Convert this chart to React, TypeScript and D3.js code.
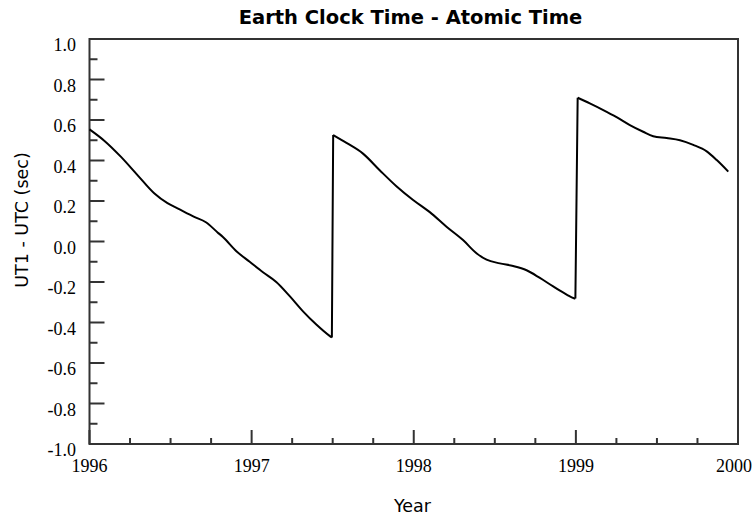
import React from "react";
import * as d3 from "d3";

const years: number[] = [
  1996.0, 1996.091, 1996.193, 1996.296, 1996.399, 1996.481, 1996.543, 1996.646, 1996.718, 1996.79,
  1996.823, 1996.906, 1996.988, 1997.07, 1997.152, 1997.235, 1997.317, 1997.399, 1997.481, 1997.495,
  1997.499, 1997.503, 1997.585, 1997.687, 1997.79, 1997.893, 1997.996, 1998.099, 1998.202, 1998.304,
  1998.387, 1998.449, 1998.531, 1998.613, 1998.696, 1998.778, 1998.86, 1998.943, 1998.988, 1998.997,
  1999.004, 1999.011, 1999.086, 1999.169, 1999.251, 1999.333, 1999.415, 1999.477, 1999.56, 1999.642,
  1999.724, 1999.807, 1999.869, 1999.94,
];
const ut1utc: number[] = [
  0.554, 0.498, 0.419, 0.328, 0.238, 0.189, 0.164, 0.122, 0.095, 0.045,
  0.022, -0.048, -0.1, -0.152, -0.2, -0.27, -0.345, -0.41, -0.466, -0.474,
  0.027, 0.526, 0.487, 0.434, 0.352, 0.273, 0.205, 0.145, 0.073, 0.007,
  -0.058, -0.09, -0.108, -0.121, -0.142, -0.18, -0.222, -0.262, -0.28, -0.282,
  0.213, 0.71, 0.682, 0.649, 0.614, 0.575, 0.542, 0.52, 0.511, 0.5,
  0.477, 0.445, 0.402, 0.345,
];
const yTickValues: number[] = [-1.0, -0.8, -0.6, -0.4, -0.2, 0.0, 0.2, 0.4, 0.6, 0.8, 1.0];
const yMinorValues: number[] = [-0.9, -0.7, -0.5, -0.3, -0.1, 0.1, 0.3, 0.5, 0.7, 0.9];
const xTickValues: number[] = [1996, 1997, 1998, 1999, 2000];
const xMinorValues: number[] = [
  1996.25, 1996.5, 1996.75, 1997.25, 1997.5, 1997.75, 1998.25, 1998.5, 1998.75, 1999.25, 1999.5, 1999.75,
];
const titleText = "Earth Clock Time - Atomic Time";
const xTitle = "Year";
const yTitle = "UT1 - UTC (sec)";

const W = 756;
const H = 516;
const L = 89.5;
const R = 738;
const T = 39;
const B = 444;

type P = [number, number];

export default function App() {
  const x = d3.scaleLinear().domain([1996, 2000]).range([L, R]);
  const y = d3.scaleLinear().domain([-1, 1]).range([B, T]);
  const pts: P[] = years.map((t, i) => [t, ut1utc[i]]);

  // split into smooth runs and straight leap-second jumps
  const smooth: P[][] = [];
  const jumps: P[][] = [];
  let run: P[] = [pts[0]];
  let jump: P[] | null = null;
  for (let i = 1; i < pts.length; i++) {
    const isJump = Math.abs(pts[i][1] - pts[i - 1][1]) > 0.2;
    if (isJump) {
      if (!jump) {
        if (run.length > 1) smooth.push(run);
        jump = [pts[i - 1]];
      }
      jump.push(pts[i]);
    } else {
      if (jump) {
        jumps.push(jump);
        run = [pts[i - 1]];
        jump = null;
      }
      run.push(pts[i]);
    }
  }
  if (run.length > 1) smooth.push(run);

  const curve = d3
    .line<P>()
    .x((d) => x(d[0]))
    .y((d) => y(d[1]))
    .curve(d3.curveMonotoneX);
  const straight = d3
    .line<P>()
    .x((d) => x(d[0]))
    .y((d) => y(d[1]));

  const axisColor = "#333";
  const serif = "'Liberation Serif', 'Times New Roman', serif";
  const sans = "'DejaVu Sans', sans-serif";
  return (
    <svg
      width={W}
      height={H}
      style={{ position: "absolute", left: 0, top: 0, background: "#fff" }}
    >
      <rect x={0} y={0} width={W} height={H} fill="#fff" />
      <text
        x={410.5}
        y={24}
        textAnchor="middle"
        fontFamily={sans}
        fontWeight="bold"
        fontSize={19.5}
        fill="#000"
      >
        {titleText}
      </text>
      <rect x={L} y={T} width={R - L} height={B - T} fill="none" stroke={axisColor} strokeWidth={2} />
      {yTickValues.map((v) => (
        <g key={"yt" + v}>
          <line x1={L} x2={L + 15} y1={y(v)} y2={y(v)} stroke={axisColor} strokeWidth={2} />
          <text
            x={76}
            y={y(v) + 12}
            textAnchor="end"
            fontFamily={serif}
            fontSize={18}
            fill="#000"
          >
            {d3.format(".1f")(v).replace("−", "-")}
          </text>
        </g>
      ))}
      {yMinorValues.map((v) => (
        <line key={"ym" + v} x1={L} x2={L + 8} y1={y(v)} y2={y(v)} stroke={axisColor} strokeWidth={2} />
      ))}
      {xTickValues.map((t, i) => (
        <g key={"xt" + t}>
          <line x1={x(t)} x2={x(t)} y1={B} y2={B - 14} stroke={axisColor} strokeWidth={2} />
          <text
            x={i === xTickValues.length - 1 ? W - 4 : x(t)}
            y={472}
            textAnchor={i === xTickValues.length - 1 ? "end" : "middle"}
            fontFamily={serif}
            fontSize={18}
            fill="#000"
          >
            {String(t)}
          </text>
        </g>
      ))}
      {xMinorValues.map((t) => (
        <line key={"xm" + t} x1={x(t)} x2={x(t)} y1={B} y2={B - 6} stroke={axisColor} strokeWidth={2} />
      ))}
      {smooth.map((s, i) => (
        <path key={"s" + i} d={curve(s) || ""} fill="none" stroke="#000" strokeWidth={2} strokeLinejoin="round" />
      ))}
      {jumps.map((j, i) => (
        <path key={"j" + i} d={straight(j) || ""} fill="none" stroke="#000" strokeWidth={2} strokeLinejoin="miter" />
      ))}
      <text x={412.5} y={512} textAnchor="middle" fontFamily={sans} fontSize={17.5} fill="#000">
        {xTitle}
      </text>
      <text
        transform={`translate(28,220) rotate(-90)`}
        textAnchor="middle"
        fontFamily={sans}
        fontSize={17.5}
        fill="#000"
      >
        {yTitle}
      </text>
    </svg>
  );
}
